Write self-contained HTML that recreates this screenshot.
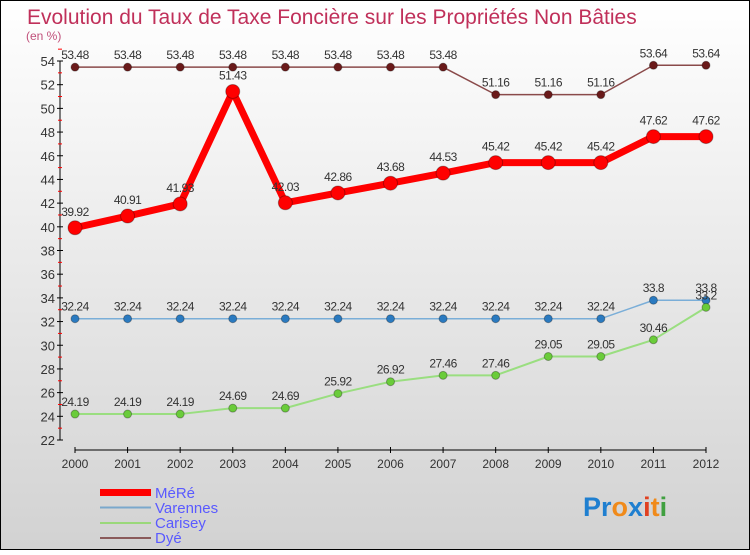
<!DOCTYPE html>
<html><head><meta charset="utf-8"><style>
body{margin:0;width:750px;height:550px;overflow:hidden;font-family:"Liberation Sans",sans-serif}
svg text{font-family:"Liberation Sans",sans-serif}
</style></head><body>
<svg id="c" width="750" height="550" xmlns="http://www.w3.org/2000/svg">
<defs><linearGradient id="bg" x1="0" y1="0" x2="0" y2="1"><stop offset="0" stop-color="#ffffff"/><stop offset="1" stop-color="#d2d2d2"/></linearGradient></defs>
<rect x="0.5" y="0.5" width="749" height="549" fill="url(#bg)" stroke="#000"/>
<text x="27" y="24" font-size="21" fill="#c0305a">Evolution du Taux de Taxe Foncière sur les Propriétés Non Bâties</text>
<text x="26" y="40" font-size="12" fill="#c0507a">(en %)</text>
<g id="axes"></g><g id="series"></g>
<g>
<rect x="100" y="489" width="51" height="7" fill="#f00"/><text x="155" y="498" font-size="15" fill="#5a5aff">MéRé</text>
<line x1="100" y1="507.5" x2="151" y2="507.5" stroke="#7aa8cc" stroke-width="2"/><text x="155" y="513" font-size="15" fill="#5a5aff">Varennes</text>
<line x1="100" y1="523" x2="151" y2="523" stroke="#9ad87a" stroke-width="2"/><text x="155" y="528" font-size="15" fill="#5a5aff">Carisey</text>
<line x1="100" y1="538" x2="151" y2="538" stroke="#8a5a5a" stroke-width="2"/><text x="155" y="543" font-size="15" fill="#5a5aff">Dyé</text>
</g>
<text x="583" y="516" font-size="27" font-weight="bold"><tspan fill="#1f7fd0">Pr</tspan><tspan fill="#f08a1a">o</tspan><tspan fill="#1f7fd0">x</tspan><tspan fill="#e04020">i</tspan><tspan fill="#f08a1a">t</tspan><tspan fill="#40a040">i</tspan></text>
</svg>
<script>
const years=[2000,2001,2002,2003,2004,2005,2006,2007,2008,2009,2010,2011,2012];
const mere=[39.92,40.91,41.93,51.43,42.03,42.86,43.68,44.53,45.42,45.42,45.42,47.62,47.62];
const varennes=[32.24,32.24,32.24,32.24,32.24,32.24,32.24,32.24,32.24,32.24,32.24,33.8,33.8];
const carisey=[24.19,24.19,24.19,24.69,24.69,25.92,26.92,27.46,27.46,29.05,29.05,30.46,33.2];
const dye=[53.48,53.48,53.48,53.48,53.48,53.48,53.48,53.48,51.16,51.16,51.16,53.64,53.64];
const yTicks=[22,24,26,28,30,32,34,36,38,40,42,44,46,48,50,52,54];
const NS="http://www.w3.org/2000/svg";
const X=i=>75+i*(706-75)/(years.length-1);
const Y=v=>440-(v-22)*(440-61)/32;
function mk(t,a,p){const e=document.createElementNS(NS,t);for(const k in a)e.setAttribute(k,a[k]);p.appendChild(e);return e;}
const ax=document.getElementById('axes');


mk('line',{x1:60,y1:Y(54),x2:60,y2:Y(22),stroke:'#000'},ax);
mk('line',{x1:75,y1:450,x2:706,y2:450,stroke:'#000'},ax);
yTicks.forEach(v=>{
 mk('line',{x1:57,y1:Y(v),x2:63,y2:Y(v),stroke:'#000'},ax);
 mk('line',{x1:58,y1:Y(v+1),x2:62,y2:Y(v+1),stroke:'#f00'},ax);
 const t=mk('text',{x:55,y:Y(v)+5,'font-size':13,fill:'#333','text-anchor':'end'},ax);
 
 t.textContent=v;
});
years.forEach((y,i)=>{
 mk('line',{x1:X(i),y1:447,x2:X(i),y2:453,stroke:'#000'},ax);
 const t=mk('text',{x:X(i),y:468,'font-size':12,fill:'#333','text-anchor':'middle'},ax);
 
 t.textContent=y;
});
const sg=document.getElementById('series');
function series(name,vals,color,w,r,dot,labOff){
 const g=mk('g',{},sg);
 
 
 mk('polyline',{points:vals.map((v,i)=>X(i)+','+Y(v)).join(' '),fill:'none',stroke:color,'stroke-width':w,'stroke-linejoin':'round'},g);
 vals.forEach((v,i)=>{
  const c=mk('circle',{cx:X(i),cy:Y(v),r:r,fill:dot,stroke:'rgba(0,0,0,0.3)'},g);
  
  
  const t=mk('text',{x:X(i),y:Y(v)-labOff,'font-size':12,fill:'#333','text-anchor':'middle','letter-spacing':'-0.5'},g);
  
  t.textContent=String(v);
 });
}
series('dye',dye,'#8a4a4a',1.5,4,'#6a1a1a',8);
series('varennes',varennes,'#7aaed8',1.5,4,'#2a7ac0',8);
series('carisey',carisey,'#9ade80',2,4,'#6acc3a',8);
series('mere',mere,'#f00',7,7,'#f00',12);
</script>
</body></html>
